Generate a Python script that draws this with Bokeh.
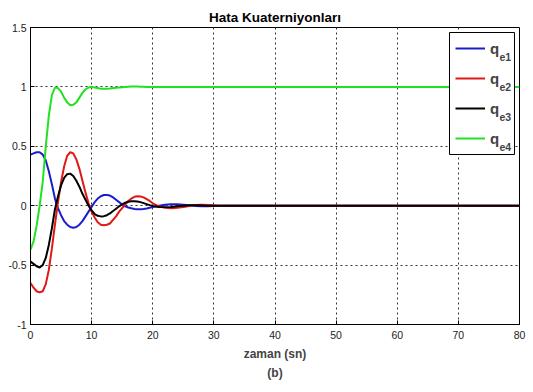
from bokeh.plotting import figure
from bokeh.models import FixedTicker, Legend, LegendItem, Label, Title, BoxAnnotation
from bokeh.embed import file_html
from bokeh.resources import INLINE

# time samples (s)
t = [0, 0.5, 1, 1.5, 2, 2.5, 3, 3.5, 4, 4.5, 5, 5.5, 6, 6.5, 7, 7.5, 8, 8.5, 9, 9.5,
     10, 10.5, 11, 11.5, 12, 12.5, 13, 13.5, 14, 14.5, 15, 15.5, 16, 16.5, 17, 17.5,
     18, 18.5, 19, 19.5, 20, 21, 22, 23, 24, 25, 26, 27, 28, 29, 30, 31, 32, 80]

qe1 = [0.43, 0.44, 0.45, 0.45, 0.43, 0.38, 0.29, 0.18, 0.06, -0.02, -0.08, -0.13, -0.16, -0.18,
       -0.185, -0.18, -0.16, -0.13, -0.09, -0.05, -0.01, 0.03, 0.06, 0.08, 0.09, 0.09, 0.085,
       0.07, 0.05, 0.03, 0.01, -0.005, -0.015, -0.022, -0.027, -0.03, -0.03, -0.028, -0.024,
       -0.018, -0.012, 0.0, 0.008, 0.012, 0.012, 0.008, 0.003, -0.002, -0.004, -0.004, -0.002,
       0.0, 0.0, 0.0]

qe2 = [-0.65, -0.69, -0.72, -0.73, -0.72, -0.66, -0.54, -0.36, -0.16, 0.03, 0.2, 0.33, 0.42,
       0.45, 0.44, 0.39, 0.31, 0.21, 0.11, 0.02, -0.05, -0.1, -0.14, -0.16, -0.165, -0.16,
       -0.15, -0.12, -0.09, -0.05, -0.02, 0.01, 0.04, 0.06, 0.075, 0.08, 0.078, 0.07, 0.055,
       0.04, 0.02, -0.005, -0.018, -0.022, -0.018, -0.01, -0.002, 0.005, 0.007, 0.006, 0.003,
       0.0, 0.0, 0.0]

qe3 = [-0.47, -0.49, -0.51, -0.52, -0.5, -0.44, -0.33, -0.19, -0.03, 0.08, 0.17, 0.235, 0.265,
       0.27, 0.25, 0.21, 0.16, 0.1, 0.05, 0.0, -0.04, -0.07, -0.085, -0.09, -0.088, -0.08,
       -0.065, -0.045, -0.025, -0.005, 0.012, 0.025, 0.033, 0.037, 0.038, 0.035, 0.03, 0.022,
       0.013, 0.005, -0.002, -0.01, -0.012, -0.01, -0.005, 0.0, 0.003, 0.003, 0.002, 0.0,
       0.0, 0.0, 0.0, 0.0]

qe4 = [-0.37, -0.3, -0.17, 0.0, 0.2, 0.5, 0.76, 0.93, 0.995, 0.99, 0.96, 0.91, 0.87, 0.845,
       0.85, 0.87, 0.91, 0.95, 0.98, 0.995, 1.0, 0.995, 0.99, 0.985, 0.985, 0.985, 0.987,
       0.99, 0.992, 0.995, 0.997, 1.0, 1.002, 1.003, 1.003, 1.003, 1.002, 1.001, 1.0, 1.0,
       1.0, 1.0, 1.0, 1.0, 1.0, 1.0, 1.0, 1.0, 1.0, 1.0, 1.0, 1.0, 1.0, 1.0]

x_ticks = [0, 10, 20, 30, 40, 50, 60, 70, 80]
y_ticks = [-1, -0.5, 0, 0.5, 1, 1.5]
y_tick_labels = ["-1", "-0.5", "0", "0.5", "1", "1.5"]
series_names = ["q", "q", "q", "q"]
subscripts = ["e1", "e2", "e3", "e4"]
colors = ["#1c1ccc", "#e01818", "#000000", "#22e022"]

FONT = "Liberation Sans"

p = figure(frame_width=489, frame_height=297, x_range=(0, 80), y_range=(-1, 1.5),
           output_backend="svg", toolbar_location=None,
           min_border_left=30, min_border_right=14, min_border_top=27, min_border_bottom=68)
p.background_fill_color = "white"
p.border_fill_color = "white"
p.outline_line_color = "black"
p.outline_line_width = 1

p.title.text = "Hata Kuaterniyonları"
p.title.align = "center"
p.title.text_font = FONT
p.title.text_font_size = "13.5px"
p.title.text_font_style = "bold"
p.title.text_color = "black"
p.title.standoff = 6

for ax in (p.xaxis[0], p.yaxis[0]):
    ax.major_label_text_font = FONT
    ax.major_label_text_font_size = "10.5px"
    ax.major_label_text_color = "#222222"
    ax.major_tick_in = 4
    ax.major_tick_out = 0
    ax.minor_tick_in = 0
    ax.minor_tick_out = 0
    ax.axis_line_color = "black"
    ax.major_tick_line_color = "black"

p.xaxis.ticker = FixedTicker(ticks=x_ticks)
p.yaxis.ticker = FixedTicker(ticks=y_ticks)
p.yaxis.major_label_overrides = {v: s for v, s in zip(y_ticks, y_tick_labels)}
p.xaxis.major_label_overrides = {v: str(v) for v in x_ticks}
p.xaxis.major_label_standoff = 6
p.yaxis.major_label_standoff = 4

p.xaxis.axis_label = "zaman (sn)"
p.xaxis.axis_label_text_font = FONT
p.xaxis.axis_label_text_font_size = "12px"
p.xaxis.axis_label_text_font_style = "bold"
p.xaxis.axis_label_standoff = 5

p.add_layout(Title(text="(b)", align="center", text_font=FONT, text_font_size="12px",
                   text_font_style="bold", standoff=0), "below")

p.grid.grid_line_color = "#333333"
p.grid.grid_line_dash = "2 3"
p.grid.grid_line_width = 1

renderers = []
for ys, c in zip([qe1, qe2, qe3, qe4], colors):
    r = p.line(t, ys, line_color=c, line_width=2)
    renderers.append(r)

# white legend panel (screen units, relative to the frame)
p.add_layout(BoxAnnotation(left=419, right=484, top=292, bottom=170,
                           left_units="screen", right_units="screen",
                           top_units="screen", bottom_units="screen",
                           fill_color="white", fill_alpha=1.0,
                           line_color="black", line_width=1, line_alpha=1.0))

legend = Legend(items=[LegendItem(label=n, renderers=[r]) for n, r in zip(series_names, renderers)],
                location="top_right", margin=5, padding=6, spacing=10,
                glyph_width=30, glyph_height=20, label_height=20, label_width=18,
                label_standoff=5, border_line_alpha=0.0,
                background_fill_alpha=0.0,
                label_text_font=FONT, label_text_font_size="15px", label_text_font_style="bold")
p.add_layout(legend)

# subscripts of legend labels, in screen units inside the frame
for i, s in enumerate(subscripts):
    p.add_layout(Label(x=469, y=268 - 30 * i, x_units="screen", y_units="screen", text=s,
                       text_font=FONT, text_font_size="10.5px", text_font_style="bold",
                       text_baseline="middle", text_align="left", level="overlay"))

open("out.html", "w").write(file_html(p, INLINE))
